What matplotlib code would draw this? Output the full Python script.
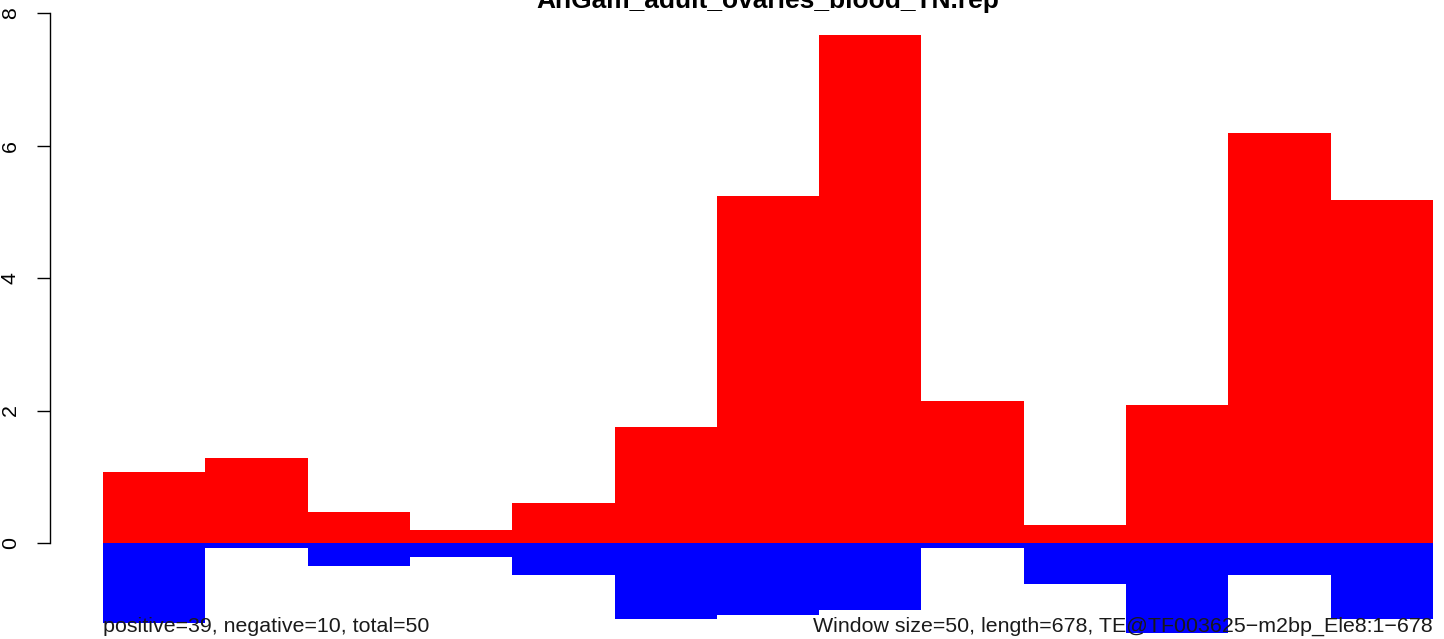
import matplotlib
matplotlib.use("Agg")
import matplotlib.pyplot as plt
import numpy as np

plt.rcParams['font.family'] = ['Liberation Sans', 'DejaVu Sans']

title = "AnGam_adult_ovaries_blood_TN.rep"
positive = [1.07, 1.28, 0.47, 0.20, 0.60, 1.75, 5.24, 7.67, 2.14, 0.27, 2.08, 6.19, 5.18]
negative = [-1.21, -0.075, -0.35, -0.21, -0.48, -1.15, -1.09, -1.01, -0.075, -0.62, -1.36, -0.48, -1.15]
yticks = [0, 2, 4, 6, 8]
left_text = "positive=39, negative=10, total=50"
right_text = "Window size=50, length=678, TE@TF003625\u2212m2bp_Ele8:1\u2212678"

W, H = 1444, 639
fig = plt.figure(figsize=(W / 100, H / 100), dpi=100)
ax = fig.add_axes([50 / W, 0, 1 - 50 / W, 1])

n = len(positive)
x = np.arange(n)
ax.bar(x, positive, width=1.0, align='edge', color='#ff0000', linewidth=0)
ax.bar(x, negative, width=1.0, align='edge', color='#0000ff', linewidth=0)

upx = n / 1330.0  # data units per pixel
ax.set_xlim(-53 * upx, n + 11 * upx)
ypx = 66.25
ax.set_ylim(-(H - 543) / ypx, 543 / ypx)

for s in ['top', 'right', 'bottom']:
    ax.spines[s].set_visible(False)
ax.spines['left'].set_bounds(0, 8)
ax.spines['left'].set_linewidth(1.0)
ax.set_xticks([])
ax.set_yticks(yticks)
ax.set_yticklabels([str(t) for t in yticks], rotation=90, va='center', fontsize=15.4)
ax.tick_params(axis='y', length=9.4, width=1.0, pad=12.2)

title_x = (767.5 - 103) * upx
ax.text(title_x, (543 - 8) / ypx, title, ha='center', va='baseline',
        fontsize=19.0, fontweight='bold', clip_on=False)
ax.text(0, (543 - 632) / ypx, left_text, ha='left', va='baseline', fontsize=15.4, color='#1a1a1a')
ax.text(n, (543 - 632) / ypx, right_text, ha='right', va='baseline', fontsize=15.4, color='#1a1a1a')

fig.savefig("out.png", dpi=100)
